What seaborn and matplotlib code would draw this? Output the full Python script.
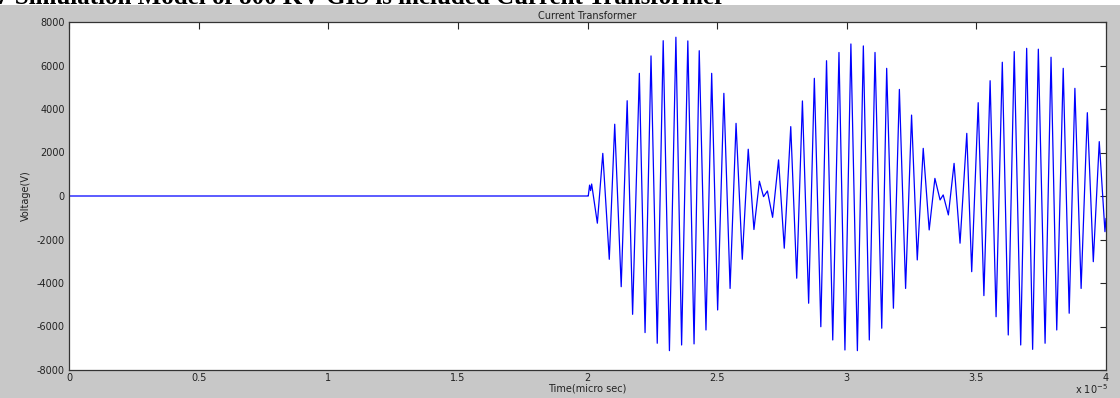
import matplotlib
matplotlib.use("Agg")
import matplotlib.pyplot as plt
import seaborn as sns
import pandas as pd
from matplotlib.patches import Rectangle

# ---- data (time in units of 1e-5 s, voltage in V) ----
time_flat = [0.0, 2.0]
volt_flat = [0, 0]

time_wave = [2.003, 2.008, 2.012, 2.016, 2.038, 2.059, 2.084, 2.105, 2.130, 2.153,
             2.174, 2.200, 2.222, 2.245, 2.269, 2.292, 2.316, 2.341, 2.363, 2.387,
             2.411, 2.431, 2.457, 2.479, 2.502, 2.526, 2.550, 2.573, 2.597, 2.620,
             2.642, 2.663, 2.679, 2.694, 2.714, 2.737, 2.759, 2.784, 2.807, 2.829,
             2.853, 2.875, 2.900, 2.922, 2.946, 2.970, 2.993, 3.016, 3.041, 3.064,
             3.087, 3.109, 3.135, 3.154, 3.180, 3.203, 3.227, 3.250, 3.272, 3.295,
             3.318, 3.340, 3.360, 3.372, 3.392, 3.414, 3.437, 3.463, 3.482, 3.507,
             3.529, 3.553, 3.576, 3.600, 3.623, 3.646, 3.671, 3.694, 3.717, 3.739,
             3.765, 3.788, 3.810, 3.835, 3.858, 3.880, 3.904, 3.928, 3.951, 3.974,
             3.996, 4.0]
volt_wave = [0, 500, 250, 550, -1250, 1960, -2910, 3300, -4170, 4380,
             -5440, 5640, -6280, 6440, -6770, 7140, -7110, 7300, -6850, 7130,
             -6800, 6680, -6160, 5640, -5240, 4720, -4250, 3340, -2910, 2150,
             -1540, 680, -30, 230, -980, 1660, -2400, 3190, -3780, 4370,
             -4930, 5410, -6010, 6220, -6620, 6600, -7080, 6990, -7110, 6900,
             -6620, 6600, -6080, 5870, -5160, 4900, -4250, 3720, -2940, 2190,
             -1560, 810, -180, 50, -870, 1500, -2170, 2880, -3480, 4290,
             -4580, 5300, -5550, 6150, -6390, 6640, -6850, 6790, -7050, 6750,
             -6770, 6380, -6160, 5870, -5390, 4950, -4250, 3830, -3020, 2500,
             -1640, -1030]

x_ticks = [0, 0.5, 1, 1.5, 2, 2.5, 3, 3.5, 4]
x_tick_labels = ["0", "0.5", "1", "1.5", "2", "2.5", "3", "3.5", "4"]
y_ticks = [-8000, -6000, -4000, -2000, 0, 2000, 4000, 6000, 8000]
y_tick_labels = [str(v) for v in y_ticks]

df = pd.DataFrame({"t": time_flat + time_wave, "v": volt_flat + volt_wave})

sns.set_theme(style="white")
plt.rcParams['font.family'] = ['DejaVu Sans']

W, H = 1120, 398
fig = plt.figure(figsize=(W / 100, H / 100), dpi=100)
fig.patch.set_facecolor("white")

# caption (page text) partly hidden behind the grey figure panel
fig.text(-4 / W, 1 - 4 / H, "7 Simulation Model of 800 KV GIS is included Current Transformer",
         family="Liberation Serif", fontweight="bold", fontsize=18, color="black",
         ha="left", va="baseline", zorder=0.2)
fig.add_artist(Rectangle((0, 0), 1, 1 - 5 / H, transform=fig.transFigure,
                         facecolor="#c8c8c8", edgecolor="none", zorder=0.5))

ax = fig.add_axes([69 / W, 1 - 370 / H, (1106 - 69) / W, (370 - 22) / H])
ax.set_zorder(1)
ax.set_facecolor("white")
sns.lineplot(data=df, x="t", y="v", ax=ax, color="#0000ff", linewidth=0.9,
             sort=False, estimator=None)

ax.set_xlim(0, 4)
ax.set_ylim(-8000, 8000)
ax.set_xticks(x_ticks)
ax.set_xticklabels(x_tick_labels)
ax.set_yticks(y_ticks)
ax.set_yticklabels(y_tick_labels)

txtc = "#222222"
ax.tick_params(axis="both", direction="in", top=True, right=True, colors="#262626",
               labelcolor=txtc, labelsize=7, width=0.8)
ax.tick_params(axis="x", length=5, pad=2.5)
ax.tick_params(axis="y", length=4.5, pad=3)
for s in ax.spines.values():
    s.set_color("#333333")
    s.set_linewidth(0.9)

ax.set_xlabel("Time(micro sec)", fontsize=7, color=txtc, labelpad=0)
ax.set_ylabel("Voltage(V)", fontsize=7, color=txtc, labelpad=4)
ax.set_title("Current Transformer", fontsize=7, color=txtc, pad=2)

fig.text(1108 / W, 1 - 394 / H, r"x 10$^{-5}$", fontsize=7, color=txtc,
         ha="right", va="baseline", zorder=2)

fig.savefig("out.png", dpi=100, facecolor=fig.get_facecolor())
